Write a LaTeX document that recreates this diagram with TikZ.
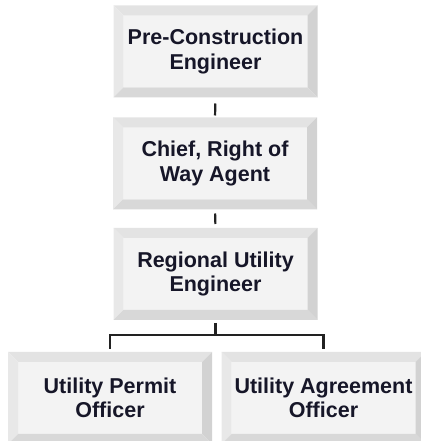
\documentclass[tikz,border=0pt]{standalone}
\usepackage{fontspec}
\setmainfont{Liberation Sans}
\usepackage{tikz}
\usetikzlibrary{calc}

\definecolor{faceGray}{HTML}{F3F3F3}
\definecolor{bevTop}{HTML}{E3E3E3}
\definecolor{bevLeft}{HTML}{E8E8E8}
\definecolor{bevRight}{HTML}{D2D2D2}
\definecolor{bevBottom}{HTML}{D8D8D8}
\definecolor{txtNavy}{RGB}{22,22,40}
\definecolor{lineGray}{HTML}{222222}

\begin{document}
\begin{tikzpicture}[x=1pt,y=1pt,
    post/.style={rectangle,fill=faceGray,minimum width=184pt,minimum height=72pt,
      inner sep=0pt,outer sep=10pt,align=center,text=txtNavy,
      font=\bfseries\fontsize{21.5}{24.5}\selectfont},
    link/.style={draw=lineGray,line width=2.2pt}]

    \useasboundingbox (0,0) rectangle (420,441);

    % Chain of posts
    \node[post] (pce)   at (215.5,389.5) {Pre-Construction\\Engineer};
    \node[post] (chief) at (215,277.5)   {Chief, Right of\\Way Agent};
    \node[post] (rue)   at (215.5,167)   {Regional Utility\\Engineer};
    \node[post] (upo)   at (110,43)      {Utility Permit\\Officer};
    \node[post] (uao)   at (323.5,43)    {Utility Agreement\\Officer};

    % Bevelled frames round every post
    \foreach \n in {pce,chief,rue,upo,uao} {
      \fill[bevTop] (\n.north west) -- (\n.north east)
        -- ([shift={(-10,-10)}]\n.north east) -- ([shift={(10,-10)}]\n.north west) -- cycle;
      \fill[bevLeft] (\n.north west) -- (\n.south west)
        -- ([shift={(10,10)}]\n.south west) -- ([shift={(10,-10)}]\n.north west) -- cycle;
      \fill[bevRight] (\n.north east) -- (\n.south east)
        -- ([shift={(-10,10)}]\n.south east) -- ([shift={(-10,-10)}]\n.north east) -- cycle;
      \fill[bevBottom] (\n.south west) -- (\n.south east)
        -- ([shift={(-10,10)}]\n.south east) -- ([shift={(10,10)}]\n.south west) -- cycle;
    }

    % Reporting lines
    \draw[link,shorten <=6pt,shorten >=2pt] (pce.south) -- (chief.north);
    \draw[link,shorten <=4pt,shorten >=4pt] (chief.south) -- (rue.north);
    \draw[link,shorten <=3pt] (rue.south) -- (rue.south |- 0,106) coordinate (fork);
    \foreach \v in {upo,uao} {
      \draw[link,shorten >=3pt] (fork) -| (\v.north);
    }

  \end{tikzpicture}
\end{document}
